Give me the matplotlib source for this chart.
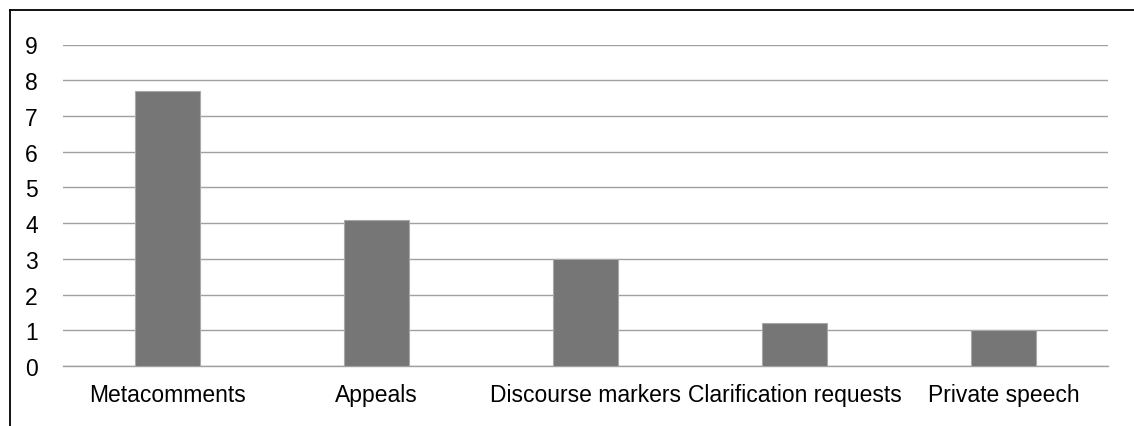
import matplotlib
matplotlib.use("Agg")
import matplotlib.pyplot as plt
from matplotlib.lines import Line2D

categories = ["Metacomments", "Appeals", "Discourse markers", "Clarification requests", "Private speech"]
values = [7.7, 4.1, 3.0, 1.2, 1.0]
yticks = [0, 1, 2, 3, 4, 5, 6, 7, 8, 9]

plt.rcParams['font.family'] = ['Liberation Sans', 'DejaVu Sans']

W, H = 1134, 427
fig = plt.figure(figsize=(W / 100, H / 100), dpi=100)
ax = fig.add_axes([63 / W, 1 - 367 / H, (1108 - 63) / W, (367 - 45.5) / H])

x = list(range(len(categories)))
ax.bar(x, values, width=0.31, color='#767676', edgecolor='#a8a8a8', linewidth=0.8, zorder=3)
ax.set_xlim(-0.5, len(categories) - 0.5)
ax.set_ylim(0, 9)
ax.set_yticks(yticks)
ax.set_yticklabels([str(t) for t in yticks])
ax.set_xticks(x)
ax.set_xticklabels(categories)
ax.yaxis.grid(True, color='#a0a0a0', linewidth=1.0, zorder=0)
ax.set_axisbelow(True)
for s in ['left', 'right', 'top']:
    ax.spines[s].set_visible(False)
ax.spines['bottom'].set_color('#a0a0a0')
ax.spines['bottom'].set_linewidth(1.0)
ax.tick_params(axis='both', length=0, labelsize=16.5, colors='black')
ax.tick_params(axis='y', pad=18)
ax.tick_params(axis='x', pad=12.5)

# outer frame (top and left edges visible)
fig.add_artist(Line2D([10 / W, 1.0], [1 - 11 / H, 1 - 11 / H], transform=fig.transFigure, color='black', linewidth=1.3))
fig.add_artist(Line2D([10 / W, 10 / W], [0, 1 - 11 / H], transform=fig.transFigure, color='black', linewidth=1.3))

fig.savefig("out.png", dpi=100)
